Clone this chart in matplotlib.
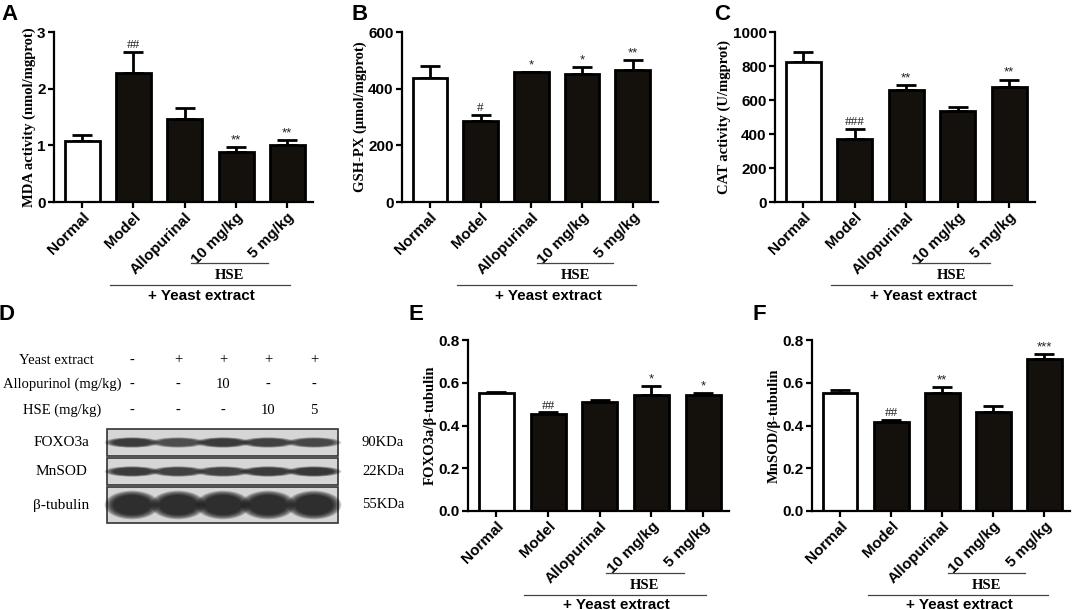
import matplotlib
matplotlib.use("Agg")
import matplotlib.pyplot as plt
import matplotlib.transforms as mtransforms
from matplotlib.patches import Rectangle, Ellipse
import numpy as np

groups = ["Normal", "Model", "Allopurinal", "10 mg/kg", "5 mg/kg"]

mda = [1.07, 2.28, 1.47, 0.88, 1.01]
mda_err = [0.12, 0.37, 0.19, 0.09, 0.08]
mda_sig = ["", "##", "", "**", "**"]

gsh = [438, 285, 458, 451, 466]
gsh_err = [43, 22, 2, 24, 36]
gsh_sig = ["", "#", "*", "*", "**"]

cat = [822, 371, 661, 533, 678]
cat_err = [58, 58, 27, 24, 42]
cat_sig = ["", "###", "**", "", "**"]

foxo = [0.550, 0.453, 0.508, 0.544, 0.541]
foxo_err = [0.006, 0.009, 0.009, 0.040, 0.010]
foxo_sig = ["", "##", "", "*", "*"]

mnsod = [0.550, 0.417, 0.553, 0.464, 0.713]
mnsod_err = [0.016, 0.011, 0.028, 0.028, 0.021]
mnsod_sig = ["", "##", "**", "", "***"]

# western blot (panel D)
blot_rows = ["Yeast extract", "Allopurinol (mg/kg)", "HSE (mg/kg)"]
blot_marks = [["-", "+", "+", "+", "+"],
              ["-", "-", "10", "-", "-"],
              ["-", "-", "-", "10", "5"]]
proteins = ["FOXO3a", "MnSOD", "β-tubulin"]
sizes = ["90KDa", "22KDa", "55KDa"]
band_strength = [[0.85, 0.7, 0.85, 0.8, 0.75],
                 [0.85, 0.8, 0.8, 0.85, 0.9],
                 [1.0, 1.0, 1.0, 1.0, 1.0]]

W, H = 1072, 610
fig = plt.figure(figsize=(W / 100, H / 100), dpi=100)
BAR = "#14110c"
SANS = "Liberation Sans"
SERIF = "Liberation Serif"


def px_axes(l, r, t, b):
    return fig.add_axes([l / W, 1 - b / H, (r - l) / W, (b - t) / H])


def bar_panel(box, vals, errs, sigs, ylim, step, ylabel, fmt):
    ax = px_axes(*box)
    x = np.arange(len(vals))
    colors = ["white"] + [BAR] * (len(vals) - 1)
    ax.errorbar(x, vals, yerr=[[0] * len(vals), errs], fmt="none",
                ecolor="black", elinewidth=2, capsize=7, capthick=2, zorder=1)
    ax.bar(x, vals, width=0.68, color=colors, edgecolor="black",
           linewidth=2, zorder=2)
    for xi, v, e, s in zip(x, vals, errs, sigs):
        if s:
            fam = SERIF if "#" in s else SANS
            ax.text(xi, v + e + ylim * 0.004, s, ha="center", va="bottom",
                    fontsize=9.5, family=fam, color="#222222")
    ax.set_xlim(-0.55, 4.5)
    ax.set_ylim(0, ylim)
    ax.set_yticks(np.arange(0, ylim + step / 2, step))
    ax.yaxis.set_major_formatter(matplotlib.ticker.FormatStrFormatter(fmt))
    ax.set_xticks(x)
    ax.set_xticklabels(groups, rotation=45, ha="right", rotation_mode="anchor",
                       fontsize=11, fontweight="bold", family=SANS)
    for lab in ax.get_yticklabels():
        lab.set_fontsize(11)
        lab.set_fontweight("bold")
        lab.set_family(SANS)
    ax.spines["top"].set_visible(False)
    ax.spines["right"].set_visible(False)
    ax.spines["left"].set_linewidth(1.6)
    ax.spines["bottom"].set_linewidth(1.6)
    ax.tick_params(width=1.6, length=4, pad=2)
    ax.set_ylabel(ylabel, fontsize=10.5, fontweight="bold", family=SERIF,
                  labelpad=1)
    tr = mtransforms.blended_transform_factory(ax.transData, ax.transAxes)
    ax.plot([2.12, 3.62], [-0.36, -0.36], color="#444444", lw=0.9,
            transform=tr, clip_on=False)
    ax.text(2.87, -0.435, "HSE", transform=tr, ha="center", va="center",
            fontsize=10.5, fontweight="bold", family=SERIF)
    ax.plot([0.54, 4.06], [-0.49, -0.49], color="#444444", lw=0.9,
            transform=tr, clip_on=False)
    ax.text(2.33, -0.55, "+ Yeast extract", transform=tr, ha="center",
            va="center", fontsize=11, fontweight="bold", family=SANS)
    return ax


bar_panel((54, 313, 32, 202), mda, mda_err, mda_sig, 3, 1,
          "MDA activity (nmol/mgprot)", "%d")
bar_panel((402, 658, 32, 202), gsh, gsh_err, gsh_sig, 600, 200,
          "GSH-PX (μmol/mgprot)", "%d")
bar_panel((775, 1035, 32, 202), cat, cat_err, cat_sig, 1000, 200,
          "CAT activity (U/mgprot)", "%d")
bar_panel((468, 729, 340, 511), foxo, foxo_err, foxo_sig, 0.8, 0.2,
          "FOXO3a/β-tubulin", "%.1f")
bar_panel((812, 1070, 340, 511), mnsod, mnsod_err, mnsod_sig, 0.8, 0.2,
          "MnSOD/β-tubulin", "%.1f")

# overlay in pixel coordinates for letters and the blot
ov = fig.add_axes([0, 0, 1, 1], facecolor="none")
ov.set_xlim(0, W)
ov.set_ylim(H, 0)
ov.axis("off")

for letter, lx, ly in [("A", 9, 14), ("B", 360, 14), ("C", 722, 14),
                       ("D", 7, 315), ("E", 416, 315), ("F", 759, 315)]:
    ov.text(lx, ly, letter, fontsize=16, fontweight="bold", family=SANS,
            ha="center", va="center")

lane_x = [132, 178, 223, 268, 314]
row_y = [360, 384, 410]
label_x = [56, 62, 62]
for lbl, lx, y, marks in zip(blot_rows, label_x, row_y, blot_marks):
    ov.text(lx, y, lbl, fontsize=10.5, family=SERIF, ha="center", va="center")
    for xl, m in zip(lane_x, marks):
        ov.text(xl, y, m, fontsize=10.5, family=SERIF, ha="center",
                va="center")

strips = [(429, 456), (458, 485), (487, 523)]
band_h = [8, 8, 22]
for name, size, (t, b), bh, strength in zip(proteins, sizes, strips,
                                           band_h, band_strength):
    yc = (t + b) / 2
    ov.add_patch(Rectangle((107, t), 231, b - t, facecolor="#d6d6d6",
                           edgecolor="#333333", lw=1.2))
    for xl, s in zip(lane_x, strength):
        for k in range(6):
            f = 1.3 - k * 0.08
            ov.add_patch(Ellipse((xl, yc), 42 * f, bh * f,
                                 facecolor="black", edgecolor="none",
                                 alpha=0.22 * s))
    ov.text(61, yc, name, fontsize=11, family=SERIF, ha="center",
            va="center")
    ov.text(383, yc, size, fontsize=10.5, family=SERIF, ha="center",
            va="center")

fig.savefig("out.png", dpi=100)
